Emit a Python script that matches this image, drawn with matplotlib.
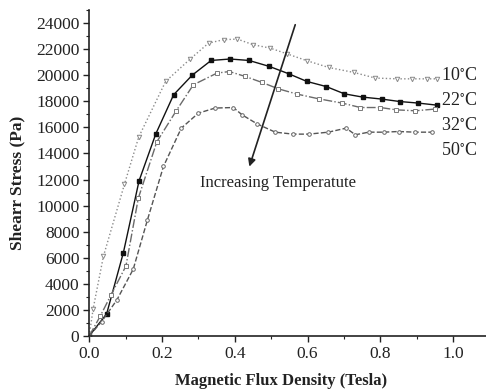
import matplotlib
matplotlib.use("Agg")
import matplotlib.pyplot as plt
from matplotlib.ticker import MultipleLocator

plt.rcParams['font.family'] = ['Liberation Serif', 'DejaVu Serif']
plt.rcParams['mathtext.fontset'] = 'stix'

# Data (Magnetic flux density in Tesla, shear stress in Pa)
x10 = [0, 0.011, 0.039, 0.097, 0.136, 0.21, 0.277, 0.328, 0.369, 0.407, 0.451, 0.497,
       0.543, 0.598, 0.658, 0.727, 0.786, 0.846, 0.887, 0.928, 0.956]
y10 = [0, 2100, 6100, 11650, 15250, 19520, 21230, 22460, 22720, 22770, 22330, 22080,
       21640, 21110, 20590, 20210, 19780, 19720, 19720, 19720, 19720]

x22 = [0, 0.048, 0.094, 0.137, 0.183, 0.232, 0.283, 0.335, 0.387, 0.439, 0.495, 0.548,
       0.598, 0.651, 0.701, 0.751, 0.803, 0.853, 0.904, 0.956]
y22 = [0, 1700, 6400, 11900, 15500, 18500, 20000, 21130, 21240, 21130, 20670, 20110,
       19520, 19130, 18570, 18320, 18170, 17980, 17860, 17700]

x32 = [0, 0.03, 0.06, 0.101, 0.135, 0.186, 0.238, 0.286, 0.351, 0.385, 0.429, 0.475,
       0.52, 0.571, 0.63, 0.695, 0.745, 0.8, 0.844, 0.896, 0.949]
y32 = [0, 1500, 3150, 5370, 10570, 14900, 17220, 19260, 20160, 20280, 19900, 19440,
       18950, 18550, 18190, 17860, 17520, 17520, 17340, 17270, 17400]

x50 = [0, 0.034, 0.076, 0.121, 0.16, 0.204, 0.253, 0.3, 0.346, 0.396, 0.42, 0.461,
       0.511, 0.56, 0.603, 0.657, 0.706, 0.731, 0.768, 0.809, 0.85, 0.896, 0.942]
y50 = [0, 1100, 2760, 5120, 8900, 13000, 15940, 17090, 17480, 17520, 16960, 16270,
       15630, 15480, 15480, 15630, 15940, 15430, 15630, 15630, 15680, 15630, 15630]

labels = ["10$^{\\circ}$C", "22$^{\\circ}$C", "32$^{\\circ}$C", "50$^{\\circ}$C"]
label_y = [19950, 18060, 16140, 14200]
xticks = [0.0, 0.2, 0.4, 0.6, 0.8, 1.0]
yticks = list(range(0, 24001, 2000))

fig = plt.figure(figsize=(4.86, 3.90), dpi=100)
ax = fig.add_axes([0.1835, 0.1385, 0.8165, 0.8359])

ax.plot(x10, y10, color='#8a8a8a', ls=':', lw=1.0, marker='v', ms=3.2,
        mfc='white', mec='#8a8a8a', mew=0.7)
ax.plot(x22, y22, color='#111111', ls='-', lw=1.0, marker='s', ms=3.2,
        mfc='#111111', mec='#111111')
ax.plot(x32, y32, color='#6a6a6a', ls='-.', lw=1.0, marker='s', ms=3.2,
        mfc='white', mec='#7a7a7a', mew=0.7)
ax.plot(x50, y50, color='#555555', ls='--', lw=1.0, marker='o', ms=2.6,
        mfc='white', mec='#666666', mew=0.7)

for lab, ly in zip(labels, label_y):
    ax.text(0.966, ly, lab, fontsize=13, va='center', ha='left', color='#222222')

ax.annotate("", xy=(0.440, 12990), xytext=(0.566, 23870),
            arrowprops=dict(arrowstyle='-|>', color='#222222', lw=1.2,
                            mutation_scale=11, shrinkA=0, shrinkB=0))
ax.text(0.305, 11740, "Increasing Temperatute", fontsize=12, va='center',
        ha='left', color='#222222')

ax.set_xlim(0, 1.09)
ax.set_ylim(0, 25000)
ax.set_xticks(xticks)
ax.set_xticklabels([f"{v:.1f}" for v in xticks])
ax.set_yticks(yticks)
ax.xaxis.set_minor_locator(MultipleLocator(0.1))
ax.yaxis.set_minor_locator(MultipleLocator(1000))
ax.tick_params(which='major', direction='out', length=4, width=1.0,
               labelsize=12.5, colors='#222222', pad=3)
ax.tick_params(which='minor', direction='out', length=2, width=0.8, colors='#222222')

for s in ['top', 'right']:
    ax.spines[s].set_visible(False)
for s in ['left', 'bottom']:
    ax.spines[s].set_linewidth(1.2)
    ax.spines[s].set_color('#222222')

fig.text(0.035, 0.531, "Shearr Stress (Pa)", rotation=90, ha='center',
         va='center', fontsize=12.5, fontweight='bold', color='#222222')
fig.text(0.579, 0.024, "Magnetic Flux Density (Tesla)", ha='center',
         va='center', fontsize=12, fontweight='bold', color='#222222')

fig.savefig("out.png", dpi=100)
